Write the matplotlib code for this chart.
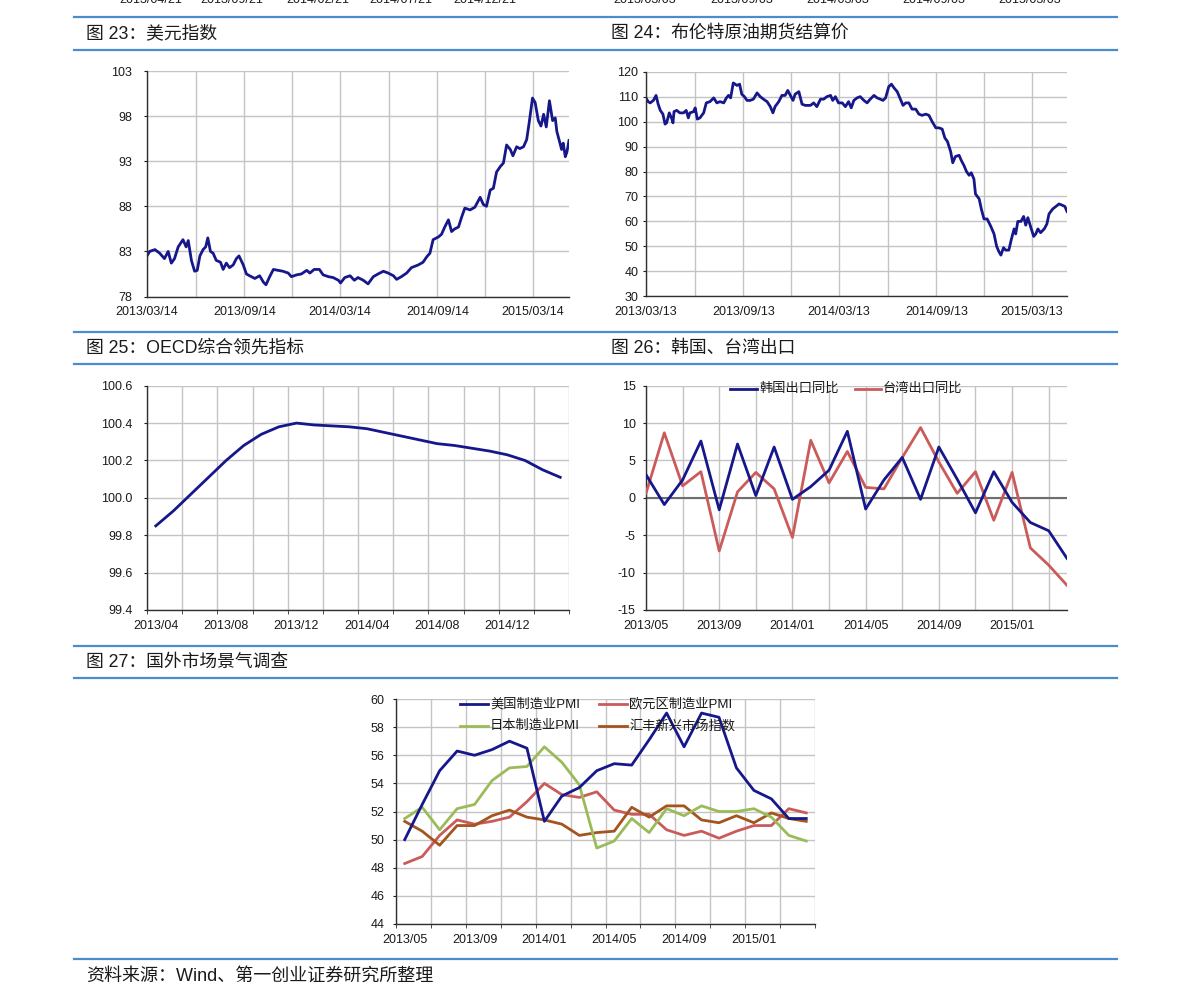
import matplotlib
matplotlib.use('Agg')
import matplotlib.pyplot as plt
import numpy as np
import pandas as pd
from matplotlib.lines import Line2D

plt.rcParams['font.family'] = ['Liberation Sans', 'Noto Sans CJK SC']
plt.rcParams['axes.unicode_minus'] = False

# ---------------- data ----------------
usd_start = '2013-03-14'
usd_days = [0,5,15,24,33,40,46,52,59,68,74,78,84,90,95,100,106,111,115,120,
            125,131,139,144,150,156,163,169,174,182,188,194,204,213,220,225,232,239,248,257,
            267,273,283,292,302,308,316,326,333,343,352,362,366,374,384,392,399,409,418,428,
            437,447,456,466,472,481,491,500,513,522,529,535,541,551,557,563,570,576,582,589,
            595,601,611,620,630,636,642,649,655,661,668,674,680,687,692,699,705,712,718,723,
            729,734,740,745,750,755,761,767,772,775,780,784,787,791,794,798]
usd_vals = [82.5,83.0,83.2,82.8,82.2,83.0,81.7,82.2,83.5,84.3,83.5,84.2,82.0,80.8,80.9,82.5,83.2,83.5,84.5,83.0,
            82.8,82.0,81.8,81.0,81.7,81.2,81.5,82.2,82.5,81.5,80.5,80.3,80.0,80.3,79.6,79.3,80.2,81.0,80.9,80.8,
            80.6,80.2,80.4,80.5,80.9,80.6,81.0,81.0,80.4,80.2,80.1,79.8,79.5,80.1,80.3,79.8,80.1,79.8,79.4,80.2,
            80.5,80.8,80.6,80.3,79.9,80.2,80.6,81.2,81.5,81.8,82.4,82.8,84.3,84.6,84.9,85.7,86.5,85.2,85.5,85.7,
            86.8,87.8,87.6,87.9,89.0,88.2,88.0,89.8,90.0,91.8,92.4,92.8,94.8,94.3,93.6,94.6,94.4,94.6,95.4,97.4,
            100.0,99.5,97.5,96.9,98.2,96.8,99.7,97.5,97.8,96.3,95.2,94.3,95.0,93.5,94.0,95.3]
usd_ticks = ['2013-03-14','2013-06-14','2013-09-14','2013-12-14','2014-03-14',
             '2014-06-14','2014-09-14','2014-12-14','2015-03-14']
usd_ticklabels = ['2013/03/14','','2013/09/14','','2014/03/14','','2014/09/14','','2015/03/14']

brent_start = '2013-03-13'
brent_days = [0,4,8,14,19,23,27,32,36,39,44,49,51,53,58,64,71,76,80,83,
              90,93,97,102,109,114,121,128,134,140,147,152,156,160,165,172,177,181,186,191,
              197,203,210,216,222,229,235,240,244,251,257,263,268,273,278,282,289,295,301,311,
              317,323,330,336,342,349,353,358,364,371,377,383,388,393,399,405,412,418,424,431,
              437,443,448,453,459,464,469,475,481,486,491,497,503,510,516,522,529,535,541,548,
              554,560,565,570,576,580,585,592,596,601,606,611,615,620,623,630,634,639,645,652,
              658,663,667,671,676,680,686,691,696,699,703,709,714,718,722,727,733,737,741,746,
              753,758,762,769,775,781,787,792,796]
brent_vals = [109.5,108,107.5,108.5,110.5,107,104.5,103,99,99.5,103.5,101,99.5,104,104.5,103.5,103.5,104.5,101.5,103.5,
              104,105.5,101,101.5,103.5,107.5,108,109.5,107.5,108,107.5,109.5,110.5,109.5,115.5,114.5,115,111,110,108.5,
              108.5,109,111.5,110,109,108,106,103.5,106,108,110.5,110.5,112.5,110.5,108.5,111,112,107,106.5,106.5,
              107.5,106,109,109,110,110.5,108.5,110,107.5,107.5,106,108,105.5,108.5,109.5,110,108.5,107.5,109,110.5,
              109.5,109,108.5,109.5,114,115,113.5,112,109,106.5,107.5,107.5,105,105,103,102.5,103,102.5,100,97.5,
              97.5,97,93.5,92,88,83.5,86,86.5,84.5,82.5,80,78.5,79.5,77,71,69,65,61,61,58,
              55,50,48,46.5,49.5,48.5,48.5,53,57,55,60,60,62,58.5,61.5,58,54,55,57,55.5,
              57,59,63,65,66,67,66.5,66,64]
brent_ticks = ['2013-03-13','2013-06-13','2013-09-13','2013-12-13','2014-03-13',
               '2014-06-13','2014-09-13','2014-12-13','2015-03-13']
brent_ticklabels = ['2013/03/13','','2013/09/13','','2014/03/13','','2014/09/13','','2015/03/13']

oecd_months = ['2013/04','2013/05','2013/06','2013/07','2013/08','2013/09','2013/10','2013/11',
               '2013/12','2014/01','2014/02','2014/03','2014/04','2014/05','2014/06','2014/07',
               '2014/08','2014/09','2014/10','2014/11','2014/12','2015/01','2015/02','2015/03']
oecd_vals = [99.85,99.93,100.02,100.11,100.20,100.28,100.34,100.38,100.40,100.39,100.385,100.38,
             100.37,100.35,100.33,100.31,100.29,100.28,100.265,100.25,100.23,100.20,100.15,100.11]

exp_months = ['2013/05','2013/06','2013/07','2013/08','2013/09','2013/10','2013/11','2013/12',
              '2014/01','2014/02','2014/03','2014/04','2014/05','2014/06','2014/07','2014/08',
              '2014/09','2014/10','2014/11','2014/12','2015/01','2015/02','2015/03','2015/04']
korea_exp = [3.1,-0.9,2.4,7.6,-1.6,7.2,0.3,6.8,-0.2,1.5,3.7,8.9,-1.5,2.4,5.4,-0.2,
             6.8,2.5,-2.0,3.5,-0.6,-3.3,-4.4,-8.1]
taiwan_exp = [0.6,8.7,1.6,3.5,-7.1,0.8,3.4,1.2,-5.3,7.7,2.0,6.2,1.4,1.2,5.4,9.4,
              4.8,0.6,3.5,-3.0,3.4,-6.7,-9.0,-11.7]

pmi_months = exp_months
us_pmi = [50.0,52.5,54.9,56.3,56.0,56.4,57.0,56.5,51.3,53.1,53.7,54.9,55.4,55.3,57.1,59.0,
          56.6,59.0,58.7,55.1,53.5,52.9,51.5,51.5]
euro_pmi = [48.3,48.8,50.3,51.4,51.1,51.3,51.6,52.7,54.0,53.2,53.0,53.4,52.1,51.8,51.8,50.7,
            50.3,50.6,50.1,50.6,51.0,51.0,52.2,51.9]
japan_pmi = [51.5,52.3,50.7,52.2,52.5,54.2,55.1,55.2,56.6,55.5,53.9,49.4,49.9,51.5,50.5,52.2,
             51.7,52.4,52.0,52.0,52.2,51.6,50.3,49.9]
hsbc_em = [51.3,50.6,49.6,51.0,51.0,51.7,52.1,51.6,51.4,51.1,50.3,50.5,50.6,52.3,51.6,52.4,
           52.4,51.4,51.2,51.7,51.2,51.9,51.5,51.3]

titles = ['图 23：美元指数', '图 24：布伦特原油期货结算价', '图 25：OECD综合领先指标',
          '图 26：韩国、台湾出口', '图 27：国外市场景气调查']
source = '资料来源：Wind、第一创业证券研究所整理'
top_left_labels = ['2013/04/21', '2013/09/21', '2014/02/21', '2014/07/21', '2014/12/21']
top_right_labels = ['2013/03/03', '2013/09/03', '2014/03/03', '2014/09/03', '2015/03/03']

# ---------------- styling ----------------
W, H = 1191, 1006
NAVY = '#16178a'
RED = '#cb5b5b'
GREEN = '#9bbb59'
BROWN = '#a3541f'
GRID = '#c4c4c4'
SEP = '#4b8ccb'
TXT = '#1a1a1a'

fig = plt.figure(figsize=(W / 100, H / 100), dpi=100)
fig.patch.set_facecolor('white')


def rect(l, t, r, b):
    return [l / W, 1 - b / H, (r - l) / W, (b - t) / H]


def fy(py):
    return 1 - py / H


def style(ax, ypad):
    for s in ['top', 'right']:
        ax.spines[s].set_visible(False)
    for s in ['left', 'bottom']:
        ax.spines[s].set_color('#303030')
        ax.spines[s].set_linewidth(1.0)
    ax.set_axisbelow(True)
    ax.tick_params(axis='y', which='major', length=2.5, width=0.8, pad=ypad,
                   labelsize=9, colors=TXT)
    ax.tick_params(axis='x', which='major', labelsize=9, colors=TXT)
    ax.grid(True, which='major', axis='y', color=GRID, lw=1.0)


# separator lines
for y in [17, 50, 332, 364, 646, 678, 959]:
    fig.add_artist(Line2D([74 / W, 1117 / W], [fy(y), fy(y)], color=SEP, lw=1.6))

# bottom edge of the previous chart's date labels (cut off by the page top)
for lab, x in zip(top_left_labels, [151, 232, 318, 401, 485]):
    fig.text(x / W, fy(3), lab, ha='center', va='baseline', fontsize=9, color=TXT)
for lab, x in zip(top_right_labels, [645, 742, 838, 934, 1030]):
    fig.text(x / W, fy(3), lab, ha='center', va='baseline', fontsize=9, color=TXT)

# titles
for t, (x, y) in zip(titles, [(86, 34), (611, 34), (86, 348), (611, 348), (86, 662)]):
    fig.text(x / W, fy(y), t, ha='left', va='center', fontsize=12.8, color=TXT)
fig.text(86 / W, fy(976), source, ha='left', va='center', fontsize=13, color=TXT)

# ---------------- chart 23 ----------------
ax = fig.add_axes(rect(147, 71, 569, 296.5))
style(ax, 8)
d0 = pd.Timestamp(usd_start)
ax.plot(d0 + pd.to_timedelta(usd_days, unit='D'), usd_vals, color=NAVY, lw=2.0)
ax.set_ylim(78, 103)
ax.set_yticks(np.arange(78, 104, 5))
ax.set_xlim(d0, d0 + pd.Timedelta(days=usd_days[-1]))
ax.set_xticks(pd.to_datetime(usd_ticks))
ax.set_xticklabels(usd_ticklabels)
ax.tick_params(axis='x', length=0, pad=7)
ax.grid(True, axis='x', color=GRID, lw=1.0)

# ---------------- chart 24 ----------------
ax = fig.add_axes(rect(646, 71.7, 1067, 296.3))
style(ax, 3)
d0 = pd.Timestamp(brent_start)
ax.plot(d0 + pd.to_timedelta(brent_days, unit='D'), brent_vals, color=NAVY, lw=2.0)
ax.set_ylim(30, 120)
ax.set_yticks(np.arange(30, 121, 10))
ax.set_xlim(d0, d0 + pd.Timedelta(days=brent_days[-1]))
ax.set_xticks(pd.to_datetime(brent_ticks))
ax.set_xticklabels(brent_ticklabels)
ax.tick_params(axis='x', length=0, pad=7)
ax.grid(True, axis='x', color=GRID, lw=1.0)

# ---------------- chart 25 ----------------
ax = fig.add_axes(rect(147, 385.7, 569, 610))
style(ax, 8)
x = np.arange(len(oecd_months))
ax.plot(x, oecd_vals, color=NAVY, lw=2.0)
ax.set_ylim(99.4, 100.6)
yt = np.round(np.arange(99.4, 100.61, 0.2), 1)
ax.set_yticks(yt)
ax.set_yticklabels([f'{v:.1f}' for v in yt])
ax.set_xlim(-0.5, len(oecd_months) - 0.5)
ax.set_xticks(x[::4])
ax.set_xticklabels([oecd_months[i] for i in x[::4]])
ax.set_xticks(np.arange(-0.5, len(oecd_months), 2), minor=True)
ax.tick_params(axis='x', which='major', length=0, pad=7)
ax.tick_params(axis='x', which='minor', length=3, color='#303030')
ax.grid(True, which='minor', axis='x', color=GRID, lw=1.0)

# ---------------- chart 26 ----------------
ax = fig.add_axes(rect(646, 385.7, 1067, 610))
style(ax, 5)
x = np.arange(len(exp_months))
ax.axhline(0, color='#6e6e6e', lw=1.5, zorder=1.5)
ax.plot(x, korea_exp, color=NAVY, lw=2.0, zorder=3)
ax.plot(x, taiwan_exp, color=RED, lw=2.0, zorder=2.9)
ax.set_ylim(-15, 15)
ax.set_yticks(np.arange(-15, 16, 5))
ax.set_xlim(0, len(exp_months) - 1)
ax.set_xticks(np.arange(0, len(exp_months), 2))
ax.set_xticklabels([exp_months[i] if i % 4 == 0 else '' for i in range(0, len(exp_months), 2)])
ax.tick_params(axis='x', length=0, pad=7)
ax.grid(True, axis='x', color=GRID, lw=1.0)

# legend chart 26
for (x0, x1, tx), lab, c in zip([(730, 757, 759), (855, 881, 883)],
                                 ['韩国出口同比', '台湾出口同比'], [NAVY, RED]):
    fig.add_artist(Line2D([x0 / W, x1 / W], [fy(389), fy(389)], color=c, lw=2.0))
    fig.text(tx / W, fy(389), lab, ha='left', va='center', fontsize=9.5, color=TXT)

# ---------------- chart 27 ----------------
ax = fig.add_axes(rect(396, 699, 815, 924))
style(ax, 6)
x = np.arange(len(pmi_months))
ax.plot(x, us_pmi, color=NAVY, lw=2.0, zorder=3.2)
ax.plot(x, euro_pmi, color=RED, lw=2.0, zorder=3)
ax.plot(x, japan_pmi, color=GREEN, lw=2.0, zorder=3.1)
ax.plot(x, hsbc_em, color=BROWN, lw=2.0, zorder=3.05)
ax.set_ylim(44, 60)
ax.set_yticks(np.arange(44, 61, 2))
ax.set_xlim(-0.5, len(pmi_months) - 0.5)
ax.set_xticks(x[::4])
ax.set_xticklabels([pmi_months[i] for i in x[::4]])
ax.set_xticks(np.arange(-0.5, len(pmi_months), 2), minor=True)
ax.tick_params(axis='x', which='major', length=0, pad=7)
ax.tick_params(axis='x', which='minor', length=3, color='#303030')
ax.grid(True, which='minor', axis='x', color=GRID, lw=1.0)

# legend chart 27
leg = [((460, 488, 490, 704), '美国制造业PMI', NAVY),
       ((599, 627, 629, 704), '欧元区制造业PMI', RED),
       ((460, 488, 490, 726), '日本制造业PMI', GREEN),
       ((599, 627, 629, 726), '汇丰新兴市场指数', BROWN)]
for (x0, x1, tx, yy), lab, c in leg:
    fig.add_artist(Line2D([x0 / W, x1 / W], [fy(yy), fy(yy)], color=c, lw=2.0))
    fig.text(tx / W, fy(yy), lab, ha='left', va='center', fontsize=9.5, color=TXT)

fig.savefig('out.png', dpi=100, facecolor='white')
